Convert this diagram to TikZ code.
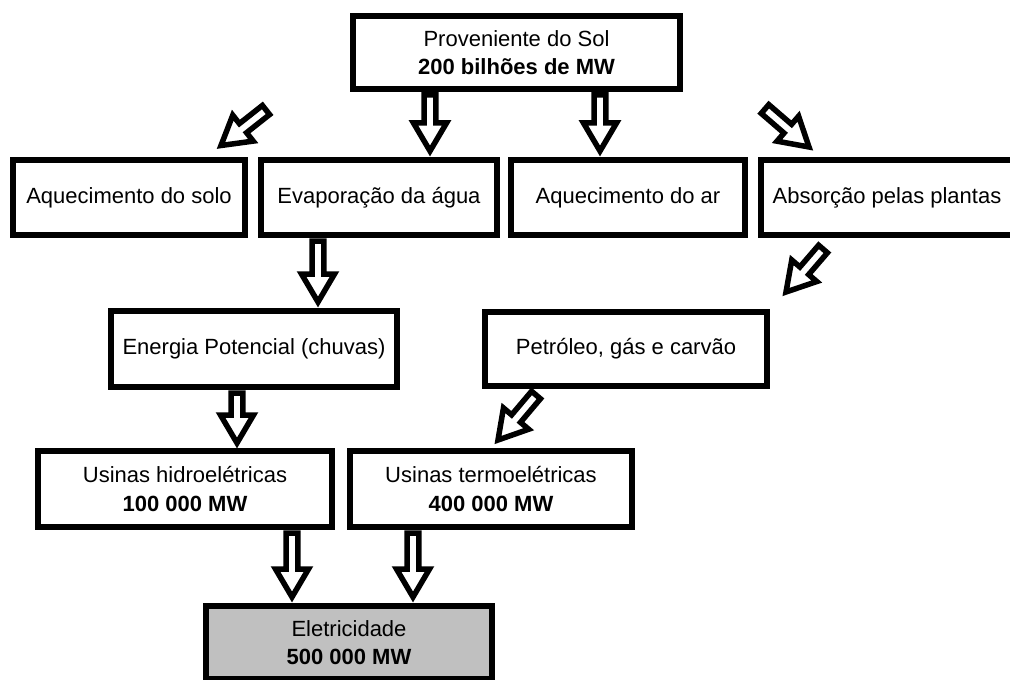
\documentclass[tikz,border=0pt]{standalone}
\usepackage{fontspec}
\setmainfont{Liberation Sans}
\usepackage{tikz}
\usetikzlibrary{calc}
\usepackage{xcolor}
\definecolor{EletricGray}{HTML}{C0C0C0}

% hollow block arrow, tail #1, tip #2
\newcommand{\blockarrow}[2]{%
  \coordinate (ba-h) at ($(#2)!14pt!(#1)$);
  \draw[hollowarrow] ($(#1)!2.9pt!90:(#2)$) -- ($(ba-h)!2.9pt!90:(#2)$) -- ($(ba-h)!8.25pt!90:(#2)$) -- (#2)
    -- ($(ba-h)!8.25pt!-90:(#2)$) -- ($(ba-h)!2.9pt!-90:(#2)$) -- ($(#1)!2.9pt!-90:(#2)$) -- cycle;
}

\begin{document}
\begin{tikzpicture}[x=0.5pt, y=-0.5pt,
    flowbox/.style={draw, line width=3.25pt, fill=white, inner sep=0pt, align=center,
      font=\fontsize{11}{14.25}\selectfont},
    hollowarrow/.style={draw, line width=2.75pt, fill=white, line join=miter, miter limit=10}]
  \useasboundingbox (0,0) rectangle (1010,679);

  % Source
  \node[flowbox, minimum width=163.5pt, minimum height=36.5pt] (sol) at (516.5,52.5)
    {Proveniente do Sol\\\textbf{200 bilhões de MW}};

  % Where the energy goes
  \node[flowbox, minimum width=116pt, minimum height=37.5pt] (solo) at (129,197.5) {Aquecimento do solo};
  \node[flowbox, minimum width=118pt, minimum height=37.5pt] (evap) at (379,197.5) {Evaporação da água};
  \node[flowbox, minimum width=117pt, minimum height=37.5pt] (ar) at (628,197.5) {Aquecimento do ar};
  \node[flowbox, minimum width=126pt, minimum height=37.5pt] (plantas) at (887,197.5) {Absorção pelas plantas};

  % Stored forms
  \node[flowbox, minimum width=143pt, minimum height=38pt] (energia) at (254,349) {Energia Potencial (chuvas)};
  \node[flowbox, minimum width=141pt, minimum height=37pt] (petroleo) at (626,349) {Petróleo, gás e carvão};

  % Power plants
  \node[flowbox, minimum width=147pt, minimum height=38pt] (hidro) at (185,489)
    {Usinas hidroelétricas\\\textbf{100 000 MW}};
  \node[flowbox, minimum width=141pt, minimum height=38pt] (termo) at (491,489)
    {Usinas termoelétricas\\\textbf{400 000 MW}};

  % Result
  \node[flowbox, fill=EletricGray, minimum width=143pt, minimum height=36.5pt] (elet) at (349,642.5)
    {Eletricidade\\\textbf{500 000 MW}};

  % Arrow ends
  \coordinate (sol-solo) at (266,110);    \coordinate (solo-in) at (221,145.5);
  \coordinate (sol-evap) at (430,95);     \coordinate (evap-in) at (430,151);
  \coordinate (sol-ar) at (600,95);       \coordinate (ar-in) at (600,151);
  \coordinate (sol-plantas) at (765,109); \coordinate (plantas-in) at (809,147);
  \coordinate (evap-out) at (318,241);    \coordinate (energia-in) at (318,302);
  \coordinate (plantas-out) at (823,249); \coordinate (petroleo-in) at (786,292);
  \coordinate (energia-out) at (237,393); \coordinate (hidro-in) at (237,443);
  \coordinate (petroleo-out) at (536,395);\coordinate (termo-in) at (498,440);
  \coordinate (hidro-out) at (292,533);   \coordinate (elet-in1) at (292,597);
  \coordinate (termo-out) at (413,533);   \coordinate (elet-in2) at (413,597);

  % Arrows
  \blockarrow{sol-solo}{solo-in}
  \blockarrow{sol-evap}{evap-in}
  \blockarrow{sol-ar}{ar-in}
  \blockarrow{sol-plantas}{plantas-in}
  \blockarrow{evap-out}{energia-in}
  \blockarrow{plantas-out}{petroleo-in}
  \blockarrow{energia-out}{hidro-in}
  \blockarrow{petroleo-out}{termo-in}
  \blockarrow{hidro-out}{elet-in1}
  \blockarrow{termo-out}{elet-in2}
\end{tikzpicture}
\end{document}
